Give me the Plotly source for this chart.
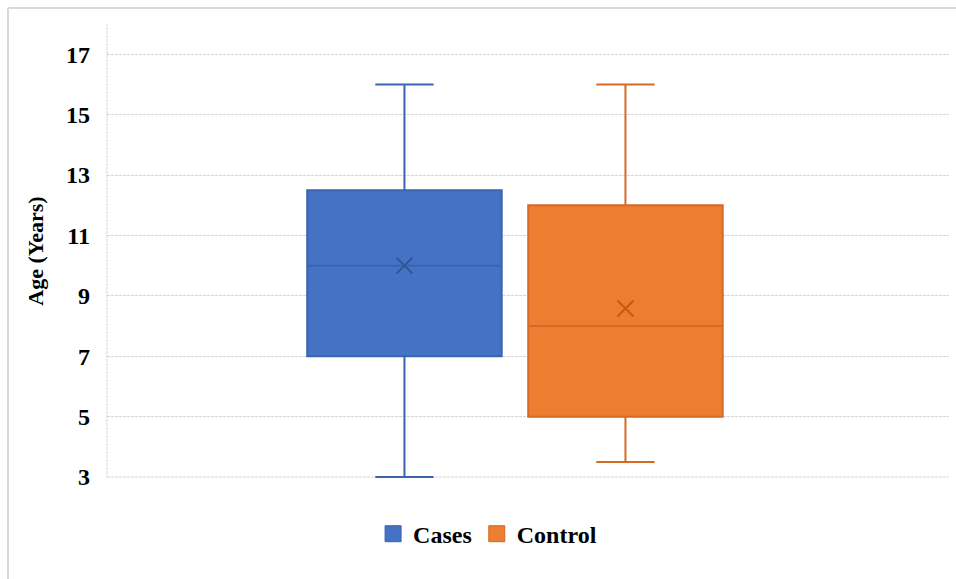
import plotly.graph_objects as go

groups = ["Cases", "Control"]
q1 = [7.0, 5.0]
median = [10.0, 8.0]
q3 = [12.5, 12.0]
lower = [3.0, 3.5]
upper = [16.0, 16.0]
mean = [10.0, 8.58]
fill_colors = ["#4472C4", "#ED7D31"]
line_colors = ["#3A64B0", "#D46A25"]
mark_colors = ["#2F5597", "#C55A11"]
tick_vals = [3, 5, 7, 9, 11, 13, 15, 17]

FONT = "Liberation Serif"

fig = go.Figure()
for i, g in enumerate(groups):
    fig.add_trace(go.Box(
        x=[g], q1=[q1[i]], median=[median[i]], q3=[q3[i]],
        lowerfence=[lower[i]], upperfence=[upper[i]],
        fillcolor=fill_colors[i], line=dict(color=line_colors[i], width=2),
        width=0.88, whiskerwidth=0.3, showlegend=False, name=g,
        boxpoints=False,
    ))
    fig.add_trace(go.Scatter(
        x=[g], y=[mean[i]], mode="markers", showlegend=False,
        marker=dict(symbol="x-thin-open", size=16, color=mark_colors[i],
                    line=dict(color=mark_colors[i], width=2)),
    ))
    # legend entry
    fig.add_trace(go.Scatter(
        x=[None], y=[None], mode="markers", name=g,
        marker=dict(symbol="square", size=18, color=fill_colors[i],
                    line=dict(color=line_colors[i], width=1)),
    ))

fig.update_layout(
    width=956, height=579,
    margin=dict(l=107, r=7, t=24, b=101),
    plot_bgcolor="white", paper_bgcolor="white",
    font=dict(family=FONT, color="#000000"),
    boxmode="overlay",
    legend=dict(orientation="h", x=0.452, xanchor="center", y=-0.1236, yanchor="middle",
                font=dict(family=FONT, size=24, weight="bold"),
                itemsizing="trace", traceorder="normal", itemwidth=30),
    xaxis=dict(type="category", categoryorder="array", categoryarray=groups,
               range=[-1.346, 2.464], showticklabels=False, showgrid=False,
               zeroline=False, showline=False),
    yaxis=dict(range=[2.97, 18], tickvals=tick_vals, showgrid=True,
               gridcolor="#D4D4D4", griddash="3px,1px", gridwidth=1,
               zeroline=False, showline=False,
               tickfont=dict(family=FONT, size=24, weight="bold"),
               ticks="", ticklabelstandoff=16,
               title=dict(text="Age (Years)", font=dict(family=FONT, size=22, weight="bold"),
                          standoff=16)),
)

# bottom gridline (value axis minimum)
fig.add_shape(type="line", xref="paper", yref="y", x0=0, x1=1,
              y0=tick_vals[0], y1=tick_vals[0],
              line=dict(color="#D4D4D4", width=1, dash="3px,1px"), layer="below")
# dashed left axis line
fig.add_shape(type="line", xref="paper", yref="paper", x0=0, x1=0, y0=0, y1=1,
              line=dict(color="#D4D4D4", width=1, dash="3px,1px"), layer="below")
# chart border (top and left)
fig.add_shape(type="line", xref="paper", yref="paper", x0=-0.1176, x1=1.01, y0=1.0353, y1=1.0353,
              line=dict(color="#D9D9D9", width=2))
fig.add_shape(type="line", xref="paper", yref="paper", x0=-0.1176, x1=-0.1176, y0=-0.23, y1=1.0353,
              line=dict(color="#D9D9D9", width=2))

fig.write_html("out.html", config={"displayModeBar": False},
               post_script="document.body.style.margin='0';")
